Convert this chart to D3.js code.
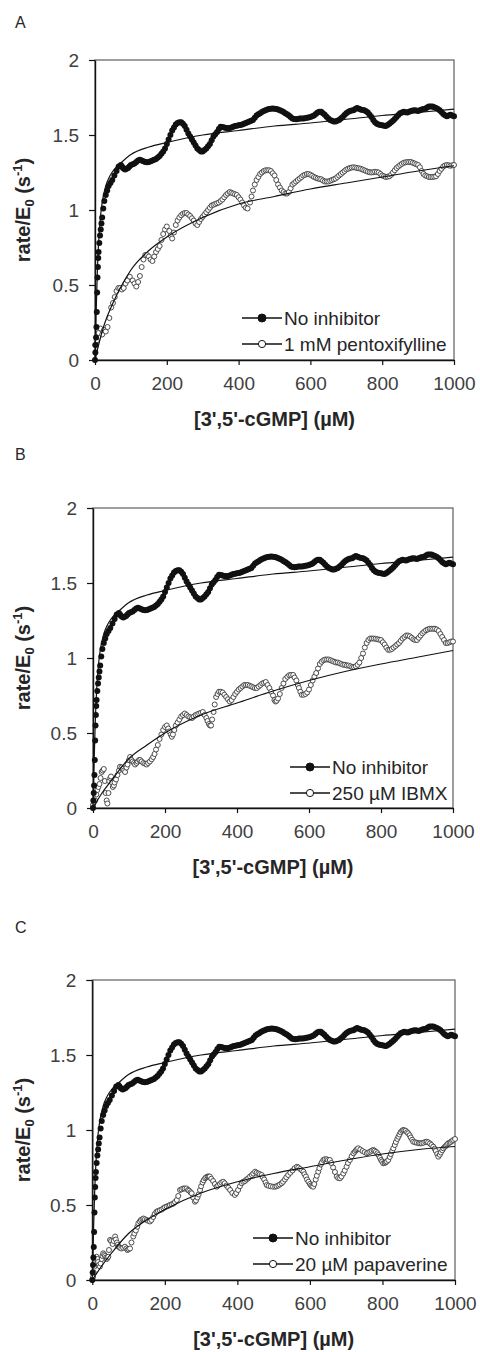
<!DOCTYPE html>
<html>
<head>
<meta charset="utf-8">
<script src="https://cdn.jsdelivr.net/npm/d3@7"></script>
<style>
  body { margin: 0; background: #fff; }
  text { font-family: "Liberation Sans", Arial, sans-serif; }
</style>
</head>
<body>
<div id="chart"></div>
<script>
// ---------------------------------------------------------------------------
// Data : [cGMP uM, rate/E0 s-1]
// ---------------------------------------------------------------------------
const noInhibitor = [
  [0,0.0],[1,0.05],[2,0.1],[3,0.15],[4,0.22],[5,0.32],[6,0.45],[7,0.55],[8,0.62],[9,0.68],
  [10,0.72],[12,0.78],[14,0.83],[16,0.87],[18,0.91],[20,0.95],[23,1.01],[26,1.06],[30,1.10],
  [34,1.13],[38,1.16],[43,1.18],[48,1.20],[54,1.23],[60,1.26],[66,1.29],[72,1.30],[75,1.29],
  [78,1.28],[81,1.275],[84,1.27],[88,1.275],[92,1.28],[96,1.29],
  [100,1.30],[105,1.305],[110,1.31],[115,1.32],[120,1.33],[125,1.335],[130,1.33],[135,1.325],
  [140,1.32],[145,1.318],[150,1.32],[155,1.325],[160,1.33],[165,1.335],[170,1.34],[175,1.35],
  [180,1.36],[185,1.375],[190,1.39],[195,1.41],[200,1.44],[205,1.47],[210,1.50],[215,1.53],
  [220,1.55],[225,1.57],[230,1.58],[235,1.585],[240,1.585],[245,1.575],[250,1.56],[255,1.535],
  [260,1.51],[265,1.49],[270,1.47],[275,1.45],[280,1.43],[285,1.41],[290,1.40],[295,1.39],
  [300,1.39],[305,1.40],[310,1.41],[315,1.425],[320,1.44],[325,1.465],[330,1.49],[335,1.505],
  [340,1.52],[345,1.54],[350,1.555],[355,1.553],[360,1.55],[365,1.547],[370,1.545],[375,1.547],
  [380,1.55],[385,1.555],[390,1.56],[395,1.562],[400,1.565],[405,1.567],[410,1.57],[415,1.575],
  [420,1.58],[425,1.585],[430,1.59],[435,1.595],[440,1.60],[445,1.615],[450,1.63],[455,1.638],
  [460,1.645],[465,1.653],[470,1.66],[475,1.665],[480,1.67],[485,1.673],[490,1.675],[495,1.676],
  [500,1.675],[505,1.673],[510,1.67],[515,1.665],[520,1.66],[525,1.653],[530,1.645],[535,1.638],
  [540,1.63],[545,1.62],[550,1.61],[555,1.607],[560,1.605],[565,1.607],[570,1.61],[575,1.61],
  [580,1.61],[585,1.612],[590,1.615],[595,1.617],[600,1.62],[605,1.625],[610,1.63],[615,1.64],
  [620,1.65],[625,1.655],[630,1.655],[635,1.645],[640,1.635],[645,1.622],[650,1.61],[655,1.60],
  [660,1.595],[665,1.59],[670,1.59],[675,1.595],[680,1.60],[685,1.61],[690,1.62],[695,1.633],
  [700,1.645],[705,1.653],[710,1.66],[715,1.663],[720,1.665],[725,1.673],[730,1.68],[735,1.675],
  [740,1.67],[745,1.667],[750,1.665],[755,1.658],[760,1.65],[765,1.635],[770,1.62],[775,1.60],
  [780,1.585],[785,1.575],[790,1.57],[795,1.567],[800,1.565],[805,1.562],[810,1.56],[815,1.567],
  [820,1.575],[825,1.585],[830,1.595],[835,1.607],[840,1.62],[845,1.633],[850,1.645],[855,1.65],
  [860,1.655],[865,1.652],[870,1.65],[875,1.655],[880,1.66],[885,1.663],[890,1.665],[895,1.663],
  [900,1.66],[905,1.665],[910,1.67],[915,1.673],[920,1.675],[925,1.683],[930,1.69],[935,1.69],
  [940,1.69],[945,1.685],[950,1.68],[955,1.673],[960,1.665],[965,1.653],[970,1.64],[975,1.632],
  [980,1.625],[985,1.63],[990,1.635],[995,1.63],[1000,1.625]
];
const noInhibitorFit = [
  [0,0],[3,0.3],[6,0.55],[10,0.78],[15,0.95],[20,1.05],[30,1.16],[40,1.22],[50,1.26],[75,1.32],
  [100,1.37],[150,1.42],[200,1.45],[300,1.50],[400,1.53],[500,1.56],[600,1.58],[700,1.605],
  [800,1.63],[900,1.65],[1000,1.673]
];

const pentoxifylline = [
  [0,0.10],[5,0.13],[10,0.18],[15,0.21],[20,0.17],[25,0.20],[30,0.19],[35,0.22],[40,0.28],
  [45,0.35],[50,0.38],[55,0.42],[60,0.46],[65,0.48],[70,0.48],[75,0.47],[80,0.48],[85,0.51],
  [90,0.53],[97,0.555],[105,0.53],[110,0.51],[115,0.49],[120,0.52],[125,0.56],[130,0.62],
  [135,0.67],[140,0.70],[145,0.70],[150,0.69],[155,0.67],[160,0.66],[165,0.69],[170,0.72],
  [175,0.74],[180,0.76],[185,0.80],[190,0.84],[195,0.87],[200,0.89],[207,0.86],[211,0.83],
  [215,0.81],[220,0.85],[225,0.90],[230,0.93],[235,0.95],[240,0.965],[245,0.975],[250,0.98],
  [255,0.98],[260,0.97],[265,0.96],[270,0.945],[275,0.93],[280,0.91],[285,0.90],[290,0.92],
  [295,0.94],[300,0.955],[305,0.97],[310,0.985],[315,1.00],[320,1.015],[325,1.03],[330,1.035],
  [335,1.04],[340,1.045],[345,1.05],[350,1.06],[355,1.07],[360,1.085],[365,1.10],[370,1.11],
  [375,1.12],[380,1.115],[385,1.11],[390,1.105],[395,1.10],[400,1.085],[405,1.07],[410,1.05],
  [415,1.03],[420,1.015],[425,1.01],[432,1.05],[436,1.09],[440,1.13],[445,1.17],[450,1.20],
  [455,1.22],[460,1.24],[465,1.25],[470,1.26],[475,1.265],[480,1.265],[485,1.265],[490,1.26],
  [495,1.245],[500,1.23],[505,1.20],[510,1.17],[515,1.15],[520,1.13],[525,1.12],[530,1.11],
  [535,1.11],[540,1.12],[545,1.145],[550,1.17],[555,1.18],[560,1.19],[565,1.20],[570,1.21],
  [575,1.22],[580,1.23],[585,1.235],[590,1.24],[595,1.24],[600,1.235],[605,1.228],[610,1.22],
  [615,1.215],[620,1.21],[625,1.207],[630,1.205],[635,1.197],[640,1.19],[645,1.19],[650,1.19],
  [655,1.195],[660,1.20],[665,1.205],[670,1.21],[675,1.22],[680,1.23],[685,1.24],[690,1.25],
  [695,1.26],[700,1.27],[705,1.275],[710,1.28],[715,1.283],[720,1.285],[725,1.283],[730,1.28],
  [735,1.278],[740,1.275],[745,1.27],[750,1.265],[755,1.26],[760,1.255],[765,1.252],[770,1.25],
  [775,1.252],[780,1.255],[785,1.253],[790,1.25],[795,1.24],[800,1.23],[805,1.225],[810,1.22],
  [815,1.222],[820,1.225],[825,1.235],[830,1.25],[835,1.265],[840,1.28],[845,1.29],[850,1.30],
  [855,1.308],[860,1.315],[865,1.318],[870,1.32],[875,1.32],[880,1.32],[885,1.315],[890,1.31],
  [895,1.305],[900,1.30],[905,1.285],[910,1.26],[915,1.24],[920,1.23],[925,1.225],[930,1.22],
  [935,1.22],[940,1.22],[945,1.222],[950,1.225],[955,1.24],[960,1.26],[965,1.275],[970,1.29],
  [975,1.297],[980,1.30],[985,1.298],[990,1.295],[995,1.298],[1000,1.30]
];
const pentoxifyllineFit = [
  [0,0],[10,0.1],[25,0.23],[50,0.38],[75,0.50],[100,0.60],[150,0.73],[200,0.82],[300,0.95],
  [400,1.04],[500,1.09],[600,1.14],[700,1.18],[800,1.22],[900,1.26],[1000,1.295]
];

const ibmx = [
  [0,0.02],[3,0.04],[6,0.05],[9,0.09],[12,0.12],[15,0.14],[18,0.16],[21,0.20],[24,0.24],
  [27,0.25],[30,0.26],[33,0.18],[35,0.10],[38,0.05],[40,0.03],[43,0.10],[45,0.18],[48,0.20],
  [50,0.21],[53,0.17],[55,0.14],[58,0.15],[60,0.17],[64,0.19],[68,0.22],[72,0.25],[75,0.275],
  [79,0.27],[82,0.26],[86,0.25],[89,0.24],[93,0.27],[96,0.29],[100,0.32],[103,0.34],[107,0.32],
  [110,0.31],[114,0.30],[117,0.29],[121,0.30],[124,0.31],[128,0.32],[131,0.32],[135,0.31],
  [140,0.30],[145,0.295],[149,0.29],[153,0.30],[158,0.31],[163,0.325],[167,0.34],[171,0.36],
  [175,0.39],[180,0.42],[185,0.46],[190,0.49],[195,0.52],[200,0.54],[205,0.55],[209,0.53],
  [212,0.51],[216,0.49],[219,0.475],[222,0.49],[226,0.52],[230,0.55],[235,0.57],[240,0.59],
  [245,0.61],[250,0.62],[255,0.63],[260,0.62],[265,0.61],[270,0.605],[275,0.60],[280,0.61],
  [285,0.62],[290,0.625],[295,0.63],[300,0.635],[305,0.64],[310,0.62],[315,0.60],[318,0.58],
  [322,0.56],[325,0.55],[328,0.55],[331,0.59],[335,0.64],[338,0.69],[342,0.74],[346,0.76],
  [350,0.775],[355,0.775],[360,0.77],[365,0.755],[370,0.74],[375,0.725],[380,0.71],[385,0.72],
  [390,0.74],[395,0.76],[400,0.775],[405,0.79],[410,0.80],[415,0.81],[420,0.82],[425,0.82],
  [430,0.82],[435,0.815],[440,0.81],[445,0.805],[450,0.80],[455,0.80],[460,0.81],[465,0.82],
  [470,0.83],[475,0.835],[480,0.84],[485,0.82],[490,0.80],[495,0.775],[500,0.75],[504,0.72],
  [507,0.71],[510,0.715],[514,0.73],[519,0.76],[524,0.80],[529,0.83],[534,0.86],[540,0.875],
  [545,0.885],[550,0.887],[556,0.887],[560,0.87],[565,0.85],[569,0.82],[572,0.80],[576,0.775],
  [580,0.755],[585,0.755],[590,0.76],[595,0.77],[600,0.79],[605,0.82],[610,0.85],[615,0.875],
  [620,0.90],[625,0.93],[630,0.96],[635,0.975],[640,0.985],[645,0.99],[650,0.99],[655,0.99],
  [660,0.985],[665,0.98],[670,0.975],[675,0.97],[680,0.97],[685,0.965],[690,0.96],[695,0.955],
  [700,0.955],[705,0.95],[710,0.95],[715,0.945],[720,0.94],[725,0.94],[730,0.945],[735,0.955],
  [740,0.97],[745,1.00],[750,1.03],[755,1.07],[760,1.10],[765,1.12],[770,1.13],[775,1.13],
  [780,1.13],[785,1.128],[790,1.125],[795,1.122],[800,1.12],[805,1.105],[810,1.09],[815,1.07],
  [820,1.055],[825,1.055],[830,1.06],[835,1.07],[840,1.08],[845,1.09],[850,1.10],[855,1.115],
  [860,1.13],[865,1.14],[870,1.15],[875,1.15],[880,1.145],[885,1.135],[890,1.125],[895,1.12],
  [900,1.12],[905,1.135],[910,1.15],[915,1.165],[920,1.175],[925,1.185],[930,1.19],[935,1.195],
  [940,1.195],[945,1.195],[950,1.195],[955,1.19],[960,1.18],[965,1.16],[970,1.14],[975,1.12],
  [980,1.10],[985,1.10],[990,1.105],[995,1.11],[1000,1.11]
];
const ibmxFit = [
  [0,0],[25,0.1],[50,0.18],[100,0.33],[150,0.42],[200,0.50],[300,0.62],[400,0.70],[500,0.78],
  [600,0.85],[700,0.91],[800,0.96],[900,1.005],[1000,1.05]
];

const papaverine = [
  [0,0.0],[2,0.02],[4,0.05],[6,0.09],[8,0.12],[10,0.14],[12,0.155],[14,0.14],[16,0.12],
  [18,0.10],[21,0.09],[23,0.11],[26,0.14],[28,0.16],[30,0.178],[33,0.17],[35,0.16],[38,0.15],
  [40,0.14],[42,0.15],[44,0.155],[46,0.20],[49,0.267],[52,0.26],[56,0.24],[59,0.26],[63,0.29],
  [65,0.27],[68,0.25],[70,0.235],[72,0.222],[76,0.215],[80,0.21],[85,0.215],[90,0.222],
  [94,0.21],[97,0.20],[100,0.205],[104,0.21],[108,0.25],[113,0.29],[116,0.31],[120,0.33],
  [124,0.355],[127,0.378],[131,0.39],[134,0.40],[138,0.405],[141,0.41],[145,0.405],[150,0.40],
  [154,0.395],[159,0.39],[163,0.40],[168,0.42],[172,0.44],[177,0.455],[181,0.46],[186,0.465],
  [191,0.47],[196,0.478],[200,0.485],[205,0.49],[210,0.495],[214,0.50],[219,0.505],[224,0.51],
  [228,0.52],[233,0.533],[237,0.56],[242,0.60],[246,0.605],[251,0.61],[255,0.61],[260,0.61],
  [264,0.60],[267,0.595],[271,0.585],[274,0.578],[278,0.55],[283,0.522],[286,0.53],[290,0.55],
  [293,0.57],[297,0.60],[300,0.625],[304,0.65],[307,0.665],[311,0.678],[314,0.685],[318,0.69],
  [321,0.69],[324,0.69],[328,0.675],[333,0.66],[338,0.64],[343,0.622],[347,0.63],[352,0.64],
  [356,0.65],[361,0.655],[365,0.645],[370,0.63],[375,0.615],[380,0.60],[386,0.58],[393,0.567],
  [397,0.58],[402,0.60],[407,0.625],[412,0.645],[416,0.655],[421,0.66],[425,0.67],[430,0.678],
  [435,0.69],[440,0.70],[444,0.71],[449,0.722],[453,0.715],[458,0.71],[462,0.705],[467,0.70],
  [470,0.685],[474,0.67],[478,0.65],[481,0.633],[486,0.628],[492,0.625],[498,0.622],[504,0.622],
  [508,0.625],[513,0.63],[517,0.637],[522,0.645],[526,0.655],[531,0.67],[535,0.685],[540,0.70],
  [546,0.715],[552,0.73],[558,0.745],[564,0.755],[568,0.75],[573,0.74],[578,0.73],[582,0.722],
  [585,0.705],[589,0.69],[592,0.67],[596,0.655],[600,0.64],[603,0.63],[606,0.625],[609,0.622],
  [612,0.64],[616,0.67],[619,0.695],[623,0.722],[626,0.745],[630,0.77],[633,0.785],[637,0.80],
  [641,0.805],[646,0.805],[650,0.80],[655,0.80],[659,0.78],[664,0.75],[669,0.72],[674,0.69],
  [678,0.68],[683,0.678],[687,0.69],[692,0.71],[696,0.73],[701,0.755],[705,0.78],[710,0.80],
  [715,0.825],[720,0.845],[724,0.855],[727,0.865],[730,0.872],[733,0.878],[739,0.87],[745,0.86],
  [751,0.852],[757,0.845],[761,0.85],[766,0.855],[770,0.862],[775,0.867],[778,0.862],[782,0.855],
  [786,0.845],[789,0.833],[793,0.815],[796,0.80],[799,0.79],[802,0.778],[806,0.78],[809,0.785],
  [812,0.79],[816,0.80],[820,0.82],[823,0.84],[827,0.86],[830,0.878],[834,0.90],[837,0.92],
  [841,0.94],[844,0.955],[847,0.97],[850,0.985],[854,0.995],[857,1.00],[860,0.998],[864,0.995],
  [868,0.985],[871,0.978],[875,0.965],[878,0.95],[882,0.935],[885,0.922],[890,0.918],[895,0.915],
  [900,0.912],[904,0.911],[908,0.912],[913,0.915],[918,0.92],[922,0.922],[926,0.918],[931,0.91],
  [935,0.90],[940,0.889],[944,0.875],[947,0.86],[951,0.84],[954,0.822],[958,0.835],[961,0.85],
  [965,0.865],[968,0.878],[972,0.888],[975,0.895],[978,0.903],[981,0.911],[985,0.915],[988,0.92],
  [992,0.927],[995,0.933],[1000,0.94]
];
const papaverineFit = [
  [0,0],[25,0.09],[50,0.17],[100,0.31],[150,0.40],[200,0.47],[300,0.58],[400,0.655],[500,0.71],
  [600,0.755],[700,0.80],[800,0.84],[900,0.87],[1000,0.89]
];

const xTicks = [0, 200, 400, 600, 800, 1000];
const yTicks = [0, 0.5, 1, 1.5, 2];
const panelLabels = ["A", "B", "C"];
const inhibitorNames = ["1 mM pentoxifylline", "250 \u00b5M IBMX", "20 \u00b5M papaverine"];
const inhibitorSeries = [pentoxifylline, ibmx, papaverine];
const inhibitorFits = [pentoxifyllineFit, ibmxFit, papaverineFit];

//=========================================================================
// Layout
//=========================================================================

const width = 480, height = 1352;

const layout = [
  { left: 95,   right: 454, top: 60,  bottom: 360,  labelY: 28,  legX: 242, legY: 318 },
  { left: 93,   right: 453, top: 508, bottom: 808,  labelY: 460, legX: 290, legY: 767 },
  { left: 92.3, right: 455, top: 980, bottom: 1280, labelY: 933, legX: 253, legY: 1238 }
];

const svg = d3.select("#chart")
  .append("svg")
  .attr("width", width)
  .attr("height", height);

svg.append("rect").attr("width", width).attr("height", height).attr("fill", "#fff");

const tickColor = "#404040";

function drawPanel(i) {
  const p = layout[i];

  var x = d3.scaleLinear().domain([0, 1000]).range([p.left, p.right]);
  var y = d3.scaleLinear().domain([0, 2]).range([p.bottom, p.top]);

  // plot frame
  svg.append("rect")
    .attr("x", p.left).attr("y", p.top)
    .attr("width", p.right - p.left).attr("height", p.bottom - p.top)
    .attr("fill", "none")
    .attr("stroke", "#6a6a6a")
    .attr("stroke-width", 1.3);

  // axes
  const gx = svg.append("g")
    .attr("transform", `translate(0,${p.bottom})`)
    .call(d3.axisBottom(x).tickValues(xTicks).tickFormat(d3.format("d"))
      .tickSize(5).tickSizeOuter(0).tickPadding(12));
  const gy = svg.append("g")
    .attr("transform", `translate(${p.left},0)`)
    .call(d3.axisLeft(y).tickValues(yTicks).tickFormat(d => d)
      .tickSize(6).tickSizeOuter(0).tickPadding(10));

  [gx, gy].forEach(g => {
    g.select(".domain").attr("stroke", "#111").attr("stroke-width", 1.4);
    g.selectAll(".tick line").attr("stroke", "#111").attr("stroke-width", 1.2);
    g.selectAll(".tick text")
      .attr("fill", tickColor)
      .attr("font-size", 19)
      .attr("font-family", "'Liberation Sans', Arial, sans-serif");
  });

  // data markers
  const inh = inhibitorSeries[i];
  svg.append("g").selectAll("circle")
    .data(inh).enter().append("circle")
    .attr("cx", d => x(d[0])).attr("cy", d => y(d[1]))
    .attr("r", 2.5)
    .attr("fill", "#fff")
    .attr("stroke", "#3a3a3a")
    .attr("stroke-width", 0.9);

  svg.append("g").selectAll("circle")
    .data(noInhibitor).enter().append("circle")
    .attr("cx", d => x(d[0])).attr("cy", d => y(d[1]))
    .attr("r", 3)
    .attr("fill", "#111");

  // fits
  const line = d3.line().x(d => x(d[0])).y(d => y(d[1])).curve(d3.curveMonotoneX);
  [noInhibitorFit, inhibitorFits[i]].forEach(f => {
    svg.append("path")
      .datum(f)
      .attr("d", line)
      .attr("fill", "none")
      .attr("stroke", "#111")
      .attr("stroke-width", 1.2);
  });

  // legend
  const rows = [
    { name: "No inhibitor", filled: true },
    { name: inhibitorNames[i], filled: false }
  ];
  rows.forEach((r, k) => {
    const ly = p.legY + k * 26;
    svg.append("line")
      .attr("x1", p.legX).attr("x2", p.legX + 40)
      .attr("y1", ly).attr("y2", ly)
      .attr("stroke", "#111").attr("stroke-width", 1.4);
    svg.append("circle")
      .attr("cx", p.legX + 20).attr("cy", ly)
      .attr("r", r.filled ? 4 : 3.6)
      .attr("fill", r.filled ? "#111" : "#fff")
      .attr("stroke", "#111").attr("stroke-width", 1);
    svg.append("text")
      .attr("x", p.legX + 42).attr("y", ly + 7)
      .attr("font-size", 19)
      .attr("fill", "#262626")
      .text(r.name);
  });

  // axis titles
  svg.append("text")
    .attr("x", (p.left + p.right) / 2)
    .attr("y", p.bottom + 66)
    .attr("text-anchor", "middle")
    .attr("font-size", 20)
    .attr("font-weight", "bold")
    .attr("fill", "#262626")
    .text("[3',5'-cGMP] (\u00b5M)");

  const yt = svg.append("text")
    .attr("transform", `translate(${30},${(p.top + p.bottom) / 2})rotate(-90)`)
    .attr("text-anchor", "middle")
    .attr("font-size", 20)
    .attr("font-weight", "bold")
    .attr("fill", "#262626");
  yt.append("tspan").text("rate/E");
  yt.append("tspan").attr("font-size", 13).attr("dy", 4).text("0");
  yt.append("tspan").attr("dy", -4).text(" (s");
  yt.append("tspan").attr("font-size", 13).attr("dy", -8).text("-1");
  yt.append("tspan").attr("dy", 8).text(")");

  // panel label
  svg.append("text")
    .attr("x", 15).attr("y", p.labelY)
    .attr("font-size", 16)
    .attr("fill", "#262626")
    .text(panelLabels[i]);
}

[0, 1, 2].forEach(drawPanel);
</script>
</body>
</html>
